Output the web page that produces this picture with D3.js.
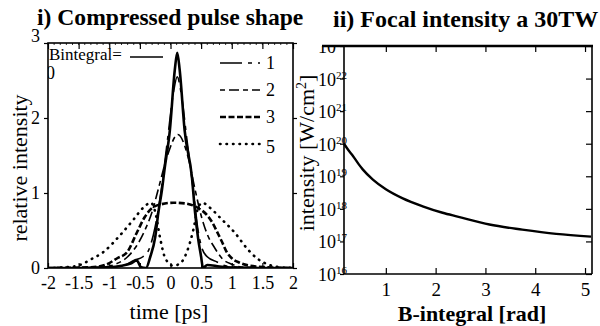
<!DOCTYPE html>
<html>
<head>
<meta charset="utf-8">
<script src="https://cdn.jsdelivr.net/npm/d3@7"></script>
<style>
  body { margin: 0; background: #fff; }
  svg text { font-family: "Liberation Serif", "DejaVu Serif", serif; fill: #000; }
  .tick line { stroke: #000; stroke-width: 1.2; }
</style>
</head>
<body>
<svg id="viz"></svg>
<script>
// ----------------------------------------------------------------------------------------------------------------
// DATA

// i) compressed pulse shape: [time ps, relative intensity]
var pulseB0 = [[-2,0],[-1.5,0],[-1.0,0.01],[-0.8,0.03],[-0.65,0.06],[-0.55,0.1],[-0.48,0.01],[-0.4,0],
  [-0.33,0.15],[-0.25,0.41],[-0.2,0.73],[-0.14,1.04],[-0.1,1.3],[-0.01,1.84],[0.07,2.64],[0.11,2.87],
  [0.15,2.64],[0.23,1.84],[0.35,1.21],[0.4,0.75],[0.45,0.4],[0.5,0.15],[0.53,0],[0.6,0.04],[0.8,0.02],[1.2,0],[2,0]];
var pulseB1 = [[-2,0],[-1,0.01],[-0.75,0.04],[-0.6,0.1],[-0.45,0.15],[-0.35,0.25],[-0.25,0.55],[-0.15,1.05],
  [-0.05,1.7],[0.05,2.35],[0.11,2.55],[0.17,2.35],[0.27,1.7],[0.37,1.05],[0.45,0.5],[0.52,0.25],[0.6,0.15],
  [0.76,0.08],[0.9,0.03],[1.2,0.01],[2,0]];
var pulseB2 = [[-2,0],[-1.1,0.01],[-0.9,0.05],[-0.7,0.15],[-0.55,0.3],[-0.42,0.5],[-0.3,0.75],[-0.2,1.05],
  [-0.05,1.5],[0.12,1.78],[0.28,1.5],[0.4,1.05],[0.5,0.7],[0.6,0.45],[0.72,0.27],[0.85,0.12],[1.0,0.05],[1.2,0.01],[2,0]];
var pulseB3 = [[-2,0],[-1.3,0.01],[-1.07,0.04],[-0.87,0.13],[-0.71,0.21],[-0.55,0.47],[-0.42,0.68],[-0.3,0.8],
  [-0.15,0.85],[0.05,0.87],[0.25,0.86],[0.45,0.8],[0.58,0.72],[0.68,0.61],[0.78,0.45],[0.84,0.35],[0.92,0.21],
  [1.0,0.13],[1.13,0.07],[1.4,0.02],[2,0]];
var pulseB5 = [[-2,0],[-1.7,0.01],[-1.48,0.04],[-1.31,0.11],[-1.1,0.21],[-0.82,0.44],[-0.6,0.65],[-0.45,0.8],
  [-0.32,0.87],[-0.25,0.75],[-0.17,0.4],[-0.08,0.12],[0.05,0.03],[0.18,0.08],[0.27,0.22],[0.37,0.5],[0.45,0.8],
  [0.52,0.87],[0.65,0.8],[0.81,0.67],[1.05,0.47],[1.27,0.24],[1.41,0.13],[1.62,0.04],[1.8,0.01],[2,0]];

var pulseKeys = ["0", "1", "2", "3", "5"];
var timeTicks = [-2, -1.5, -1, -0.5, 0, 0.5, 1, 1.5, 2];
var timeTickLabels = ["-2", "-1.5", "-1", "-0.5", "0", "0.5", "1", "1.5", "2"];
var relTicks = [0, 1, 2, 3];
var relTickLabels = ["0", "1", "2", "3"];

// ii) focal intensity at 30TW: [B-integral rad, intensity W/cm2]
var focalIntensity = [[0.16,1.0e20],[0.25,6.3e19],[0.34,4.2e19],[0.45,2.4e19],[0.54,1.6e19],[0.74,7.9e18],
  [1.0,4.0e18],[1.34,2.1e18],[1.74,1.2e18],[2.14,7.6e17],[2.44,5.8e17],[3.08,3.3e17],[3.74,2.3e17],
  [4.42,1.7e17],[5.12,1.4e17]];
var bTicks = [1, 2, 3, 4, 5];
var bTickLabels = ["1", "2", "3", "4", "5"];
var decadeTicks = [1e16, 1e17, 1e18, 1e19, 1e20, 1e21, 1e22, 1e23];
var decadeExps = ["16", "17", "18", "19", "20", "21", "22", "23"];

// ----------------------------------------------------------------------------------------------------------------
// INITIAL SETUP

var w = 600;
var h = 326;
var serif = "Liberation Serif, DejaVu Serif, serif";
var viz = d3.select("#viz").attr("width", w).attr("height", h);

var defs = viz.append("defs");
defs.append("clipPath").attr("id", "clipL")
  .append("rect").attr("x", 48).attr("y", 43).attr("width", 245).attr("height", 225);
defs.append("clipPath").attr("id", "clipR")
  .append("rect").attr("x", 300).attr("y", 46).attr("width", 300).attr("height", 260);

// ----------------------------------------------------------------------------------------------------------------
// LEFT CHART

var xL = d3.scaleLinear().domain([-2, 2]).range([48, 293]);
var yL = d3.scaleLinear().domain([0, 3]).range([268, 43]);

viz.append("text")
  .attr("x", 37).attr("y", 25)
  .attr("font-family", serif)
  .attr("font-size", 23.6).attr("font-weight", "bold")
  .text("i) Compressed pulse shape");

// minor ticks
viz.append("g").selectAll("line")
  .data(d3.range(-20, 21).map(function(d) { return d / 10; }))
  .enter().append("line")
  .attr("x1", function(d) { return xL(d); }).attr("x2", function(d) { return xL(d); })
  .attr("y1", yL(3)).attr("y2", yL(3) + 2)
  .attr("stroke", "#000").attr("stroke-width", 0.8);

// bottom axis
var axB = viz.append("g").attr("transform", "translate(0," + yL(0) + ")")
  .call(d3.axisBottom(xL).tickValues(timeTicks).tickSize(-5).tickPadding(8)
    .tickFormat(function(d, i) { return timeTickLabels[i]; }));
axB.attr("font-family", serif);
axB.select(".domain").remove();
axB.selectAll("text").attr("font-size", 18);

// top axis
var axT = viz.append("g").attr("transform", "translate(0," + yL(3) + ")")
  .call(d3.axisTop(xL).tickValues(timeTicks).tickSize(-6).tickFormat(""));
axT.select(".domain").remove();

// left axis
var axL = viz.append("g").attr("transform", "translate(" + xL(-2) + ",0)")
  .call(d3.axisLeft(yL).tickValues(relTicks).tickSize(4).tickPadding(4)
    .tickFormat(function(d, i) { return relTickLabels[i]; }));
axL.attr("font-family", serif);
axL.select(".domain").remove();
axL.selectAll("text").attr("font-size", 18);
axL.selectAll(".tick text").filter(function(d) { return d === 3; }).attr("dy", "-0.1em");

// right axis
var axR = viz.append("g").attr("transform", "translate(" + xL(2) + ",0)")
  .call(d3.axisRight(yL).tickValues(relTicks).tickSize(4).tickFormat(""));
axR.select(".domain").remove();

// frame
viz.append("rect")
  .attr("x", xL(-2)).attr("y", yL(3))
  .attr("width", xL(2) - xL(-2)).attr("height", yL(0) - yL(3))
  .attr("fill", "none").attr("stroke", "#000").attr("stroke-width", 1.6);

// axis titles
viz.append("text")
  .attr("transform", "translate(27,168) rotate(-90)")
  .attr("font-family", serif)
  .attr("text-anchor", "middle").attr("font-size", 22)
  .text("relative intensity");
viz.append("text")
  .attr("x", 169).attr("y", 319)
  .attr("font-family", serif)
  .attr("text-anchor", "middle").attr("font-size", 22)
  .text("time [ps]");

// pulse curves
var pulseStyles = {
  "0": {dash: null, width: 2.6, cap: "butt"},
  "1": {dash: "22,6,4,6", width: 1.6, cap: "butt"},
  "2": {dash: "5,4,10,4", width: 1.6, cap: "butt"},
  "3": {dash: "6,2.5", width: 2.6, cap: "butt"},
  "5": {dash: "0.5,6", width: 2.6, cap: "round"}
};
var pulseData = {"0": pulseB0, "1": pulseB1, "2": pulseB2, "3": pulseB3, "5": pulseB5};

var lineL = d3.line()
  .x(function(d) { return xL(d[0]); })
  .y(function(d) { return yL(d[1]); })
  .curve(d3.curveMonotoneX);

var curves = viz.append("g").attr("clip-path", "url(#clipL)");
pulseKeys.slice().reverse().forEach(function(k) {
  curves.append("path")
    .datum(pulseData[k])
    .attr("d", lineL)
    .attr("fill", "none")
    .attr("stroke", "#000")
    .attr("stroke-width", pulseStyles[k].width)
    .attr("stroke-linecap", pulseStyles[k].cap)
    .attr("stroke-dasharray", pulseStyles[k].dash);
});

// legend
var legL = viz.append("g").attr("clip-path", "url(#clipL)").attr("font-family", serif);
legL.append("text").attr("x", 49).attr("y", 60).attr("font-size", 17).text("Bintegral=");
legL.append("line").attr("x1", 130).attr("x2", 163).attr("y1", 57).attr("y2", 57)
  .attr("stroke", "#000").attr("stroke-width", 1.6);
legL.append("text").attr("x", 46).attr("y", 79).attr("font-size", 18).text(pulseKeys[0]);

pulseKeys.slice(1).forEach(function(k, i) {
  var ly = 63 + i * 27;
  legL.append("line")
    .attr("x1", 220).attr("x2", 260).attr("y1", ly).attr("y2", ly)
    .attr("stroke", "#000")
    .attr("stroke-width", pulseStyles[k].width)
    .attr("stroke-linecap", pulseStyles[k].cap)
    .attr("stroke-dasharray", pulseStyles[k].dash);
  legL.append("text")
    .attr("x", 266).attr("y", ly + 6 + (k === "5" ? 3 : 0))
    .attr("font-size", 18).text(k);
});

// ----------------------------------------------------------------------------------------------------------------
// RIGHT CHART

var xR = d3.scaleLinear().domain([0.16, 5.14]).range([344, 592]);
var yR = d3.scaleLog().domain([1e16, 1e23]).range([274, 46]);

viz.append("text")
  .attr("x", 333).attr("y", 27)
  .attr("font-family", serif)
  .attr("font-size", 24).attr("font-weight", "bold")
  .text("ii) Focal intensity a 30TW");

// bottom axis
var axRB = viz.append("g").attr("transform", "translate(0," + yR(1e16) + ")")
  .call(d3.axisBottom(xR).tickValues(bTicks).tickSize(-6).tickPadding(9)
    .tickFormat(function(d, i) { return bTickLabels[i]; }));
axRB.attr("font-family", serif);
axRB.select(".domain").remove();
axRB.selectAll("text").attr("font-size", 19);

// top axis
var axRT = viz.append("g").attr("transform", "translate(0," + yR(1e23) + ")")
  .call(d3.axisTop(xR).tickValues(bTicks).tickSize(-6).tickFormat(""));
axRT.select(".domain").remove();

// left axis ticks
var axRL = viz.append("g").attr("transform", "translate(" + xR(0.16) + ",0)")
  .call(d3.axisLeft(yR).tickValues(decadeTicks).tickSize(4).tickFormat(""));
axRL.select(".domain").remove();

// right axis ticks
var axRR = viz.append("g").attr("transform", "translate(" + xR(5.14) + ",0)")
  .call(d3.axisRight(yR).tickValues(decadeTicks).tickSize(-6).tickFormat(""));
axRR.select(".domain").remove();

// decade labels 10^n
var decLabels = viz.append("g").attr("clip-path", "url(#clipR)").attr("font-family", serif);
decLabels.selectAll("text")
  .data(decadeTicks)
  .enter().append("text")
  .attr("x", 318)
  .attr("y", function(d) { return yR(d) + 7; })
  .each(function(d, i) {
    var t = d3.select(this);
    t.append("tspan").attr("font-size", 18).text("10");
    t.append("tspan").attr("font-size", 11).attr("dy", -7).text(decadeExps[i]);
  });

// frame
viz.append("line")
  .attr("x1", xR(0.16)).attr("x2", xR(0.16)).attr("y1", yR(1e23)).attr("y2", yR(1e16))
  .attr("stroke", "#000").attr("stroke-width", 1.6);
viz.append("line")
  .attr("x1", xR(5.14)).attr("x2", xR(5.14)).attr("y1", yR(1e23)).attr("y2", yR(1e16))
  .attr("stroke", "#000").attr("stroke-width", 1.6);
viz.append("line")
  .attr("x1", xR(0.16)).attr("x2", xR(5.14)).attr("y1", yR(1e16)).attr("y2", yR(1e16))
  .attr("stroke", "#000").attr("stroke-width", 1.6);
viz.append("line")
  .attr("x1", 322).attr("x2", xR(5.14) + 1).attr("y1", yR(1e23)).attr("y2", yR(1e23))
  .attr("stroke", "#000").attr("stroke-width", 2.6);

// axis titles
var ytitle = viz.append("text")
  .attr("transform", "translate(314,153) rotate(-90)")
  .attr("font-family", serif)
  .attr("text-anchor", "middle").attr("font-size", 22);
ytitle.append("tspan").text("intensity [W/cm");
ytitle.append("tspan").attr("font-size", 14).attr("dy", -8).text("2");
ytitle.append("tspan").attr("dy", 8).text("]");

viz.append("text")
  .attr("x", 472).attr("y", 321)
  .attr("font-family", serif)
  .attr("text-anchor", "middle").attr("font-size", 22).attr("font-weight", "bold")
  .text("B-integral [rad]");

// intensity curve
var lineR = d3.line()
  .x(function(d) { return xR(d[0]); })
  .y(function(d) { return yR(d[1]); })
  .curve(d3.curveMonotoneX);

viz.append("path")
  .datum(focalIntensity)
  .attr("d", lineR)
  .attr("fill", "none")
  .attr("stroke", "#000")
  .attr("stroke-width", 2.4);
</script>
</body>
</html>
